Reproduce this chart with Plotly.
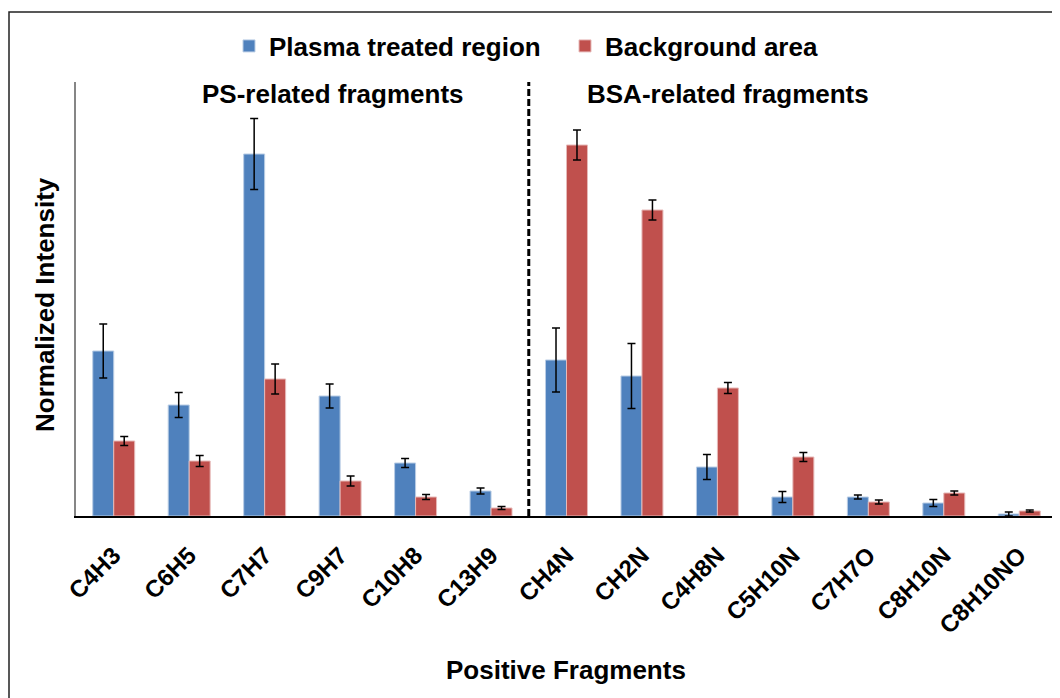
import plotly.graph_objects as go

categories = ["C4H3", "C6H5", "C7H7", "C9H7", "C10H8", "C13H9",
              "CH4N", "CH2N", "C4H8N", "C5H10N", "C7H7O", "C8H10N", "C8H10NO"]
plasma = [1.65, 1.11, 3.62, 1.20, 0.53, 0.25, 1.56, 1.40, 0.49, 0.19, 0.19, 0.13, 0.02]
plasma_err = [0.27, 0.125, 0.355, 0.12, 0.045, 0.03, 0.32, 0.325, 0.125, 0.055, 0.02, 0.035, 0.02]
background = [0.75, 0.55, 1.37, 0.35, 0.19, 0.08, 3.71, 3.06, 1.28, 0.59, 0.14, 0.23, 0.05]
background_err = [0.045, 0.055, 0.15, 0.05, 0.025, 0.015, 0.15, 0.10, 0.055, 0.045, 0.02, 0.02, 0.01]

BLUE = "#4F81BD"
RED = "#C0504D"
FONT = "Liberation Sans, Arial, sans-serif"

# plot area (page pixels): x 76..1057, y 82..516 ; page body has 8px margin
def px(x):
    return (x - 76) / 981

def py(y):
    return (516 - y) / 434

fig = go.Figure()
fig.add_trace(go.Bar(
    name="Plasma treated region", x=categories, y=plasma,
    marker=dict(color=BLUE, line=dict(color="#B9CDE5", width=1)),
    error_y=dict(type="data", array=plasma_err, color="black", thickness=1.5, width=4),
))
fig.add_trace(go.Bar(
    name="Background area", x=categories, y=background,
    marker=dict(color=RED, line=dict(color="#E6B9B8", width=1)),
    error_y=dict(type="data", array=background_err, color="black", thickness=1.5, width=4),
))

fig.update_layout(
    width=1052, height=690,
    margin=dict(l=68, r=3, t=74, b=182),
    paper_bgcolor="white", plot_bgcolor="white",
    barmode="group", bargap=0.444, bargroupgap=0,
    font=dict(family=FONT, color="black"),
    showlegend=True,
    legend=dict(orientation="h", x=px(229), xanchor="left", y=py(46), yanchor="middle",
                font=dict(size=26, family=FONT, weight="bold"),
                itemwidth=30, entrywidth=291, entrywidthmode="pixels",
                tracegroupgap=0, bgcolor="rgba(0,0,0,0)"),
)
fig.update_xaxes(
    showline=True, linecolor="black", linewidth=1.5, ticks="",
    tickangle=-45, tickfont=dict(size=24, family=FONT, weight="bold"),
    ticklabelstandoff=14,
    showgrid=False, range=[-0.5, 12.5],
)
fig.update_yaxes(
    showline=True, linecolor="#868686", linewidth=2, showticklabels=False, ticks="",
    showgrid=False, zeroline=False, range=[0, 4.34],
)

# divider between PS- and BSA-related fragments
fig.add_shape(type="line", xref="x", yref="paper", x0=5.5, x1=5.5, y0=0, y1=1,
              line=dict(color="black", width=3, dash="7px,3px"))
# outer frame
fig.add_shape(type="rect", xref="paper", yref="paper",
              x0=px(9), x1=px(1075), y0=py(715), y1=py(12),
              line=dict(color="#222222", width=1.5), layer="below")

for text, x, y, ang in [("PS-related fragments", 333, 94, 0),
                        ("BSA-related fragments", 728, 94, 0),
                        ("Positive Fragments", 566, 670, 0),
                        ("Normalized Intensity", 45, 305, -90)]:
    fig.add_annotation(text=text, xref="paper", yref="paper", x=px(x), y=py(y),
                       xanchor="center", yanchor="middle", showarrow=False, textangle=ang,
                       font=dict(size=26, family=FONT, weight="bold"))

fig.write_html("out.html")
